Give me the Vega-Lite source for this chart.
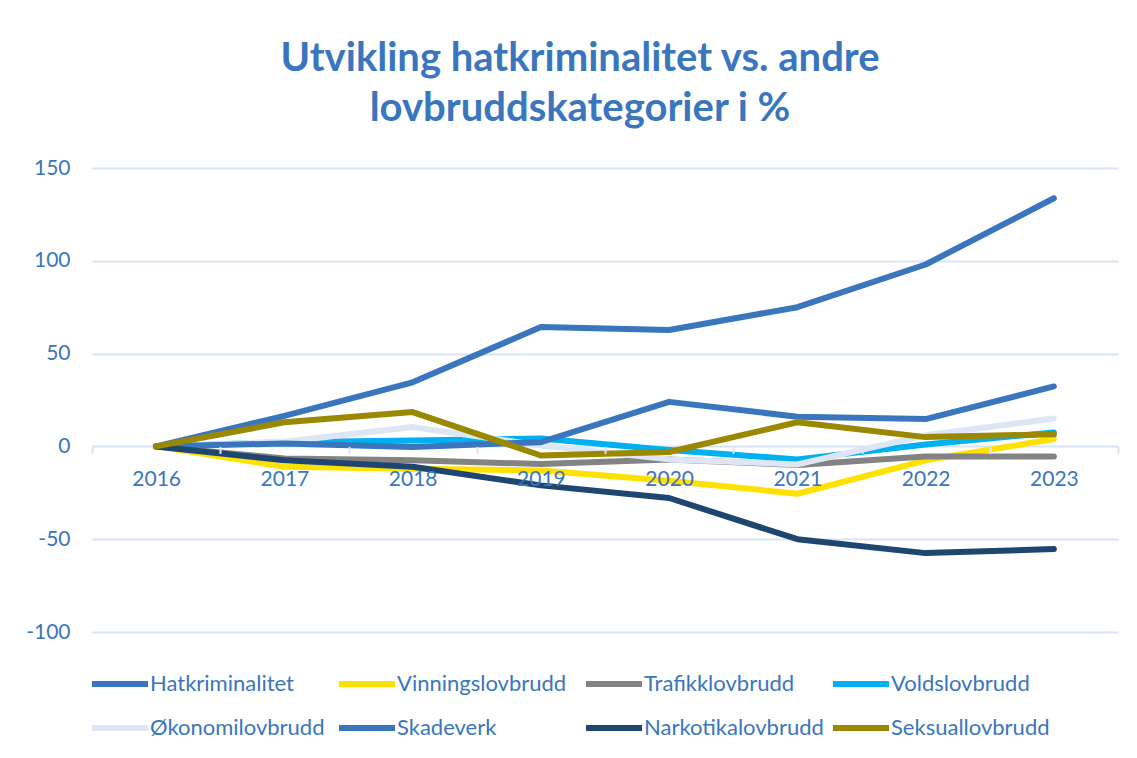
{
  "$schema": "https://vega.github.io/schema/vega-lite/v6.json",
  "width": 1026,
  "height": 464,
  "autosize": {"type": "none"},
  "padding": {"left": 92, "top": 168, "right": 19, "bottom": 126},
  "background": "white",
  "title": {
    "text": ["Utvikling hatkriminalitet vs. andre", "lovbruddskategorier i %"],
    "font": "Lato",
    "fontSize": 40,
    "fontWeight": "bold",
    "color": "#3A76BE",
    "anchor": "middle",
    "dx": -25,
    "offset": 28,
    "lineHeight": 50
  },
  "data": {
    "values": [
      {"year": "2016", "cat": "Hatkriminalitet", "value": 0},
      {"year": "2017", "cat": "Hatkriminalitet", "value": 16.4},
      {"year": "2018", "cat": "Hatkriminalitet", "value": 34.5},
      {"year": "2019", "cat": "Hatkriminalitet", "value": 64.3},
      {"year": "2020", "cat": "Hatkriminalitet", "value": 62.7},
      {"year": "2021", "cat": "Hatkriminalitet", "value": 75},
      {"year": "2022", "cat": "Hatkriminalitet", "value": 98},
      {"year": "2023", "cat": "Hatkriminalitet", "value": 133.7},
      {"year": "2016", "cat": "Vinningslovbrudd", "value": 0},
      {"year": "2017", "cat": "Vinningslovbrudd", "value": -11},
      {"year": "2018", "cat": "Vinningslovbrudd", "value": -12},
      {"year": "2019", "cat": "Vinningslovbrudd", "value": -13},
      {"year": "2020", "cat": "Vinningslovbrudd", "value": -18.5},
      {"year": "2021", "cat": "Vinningslovbrudd", "value": -25.5},
      {"year": "2022", "cat": "Vinningslovbrudd", "value": -7.5},
      {"year": "2023", "cat": "Vinningslovbrudd", "value": 4},
      {"year": "2016", "cat": "Trafikklovbrudd", "value": 0},
      {"year": "2017", "cat": "Trafikklovbrudd", "value": -6.5},
      {"year": "2018", "cat": "Trafikklovbrudd", "value": -7.5},
      {"year": "2019", "cat": "Trafikklovbrudd", "value": -9.5},
      {"year": "2020", "cat": "Trafikklovbrudd", "value": -7},
      {"year": "2021", "cat": "Trafikklovbrudd", "value": -10},
      {"year": "2022", "cat": "Trafikklovbrudd", "value": -5.4},
      {"year": "2023", "cat": "Trafikklovbrudd", "value": -5.4},
      {"year": "2016", "cat": "Voldslovbrudd", "value": 0},
      {"year": "2017", "cat": "Voldslovbrudd", "value": 2.3},
      {"year": "2018", "cat": "Voldslovbrudd", "value": 3.2},
      {"year": "2019", "cat": "Voldslovbrudd", "value": 4.3},
      {"year": "2020", "cat": "Voldslovbrudd", "value": -2},
      {"year": "2021", "cat": "Voldslovbrudd", "value": -7},
      {"year": "2022", "cat": "Voldslovbrudd", "value": 1},
      {"year": "2023", "cat": "Voldslovbrudd", "value": 7.5},
      {"year": "2016", "cat": "Økonomilovbrudd", "value": 0},
      {"year": "2017", "cat": "Økonomilovbrudd", "value": 2.5},
      {"year": "2018", "cat": "Økonomilovbrudd", "value": 10.4},
      {"year": "2019", "cat": "Økonomilovbrudd", "value": 0.5},
      {"year": "2020", "cat": "Økonomilovbrudd", "value": -7},
      {"year": "2021", "cat": "Økonomilovbrudd", "value": -9.7},
      {"year": "2022", "cat": "Økonomilovbrudd", "value": 6},
      {"year": "2023", "cat": "Økonomilovbrudd", "value": 15},
      {"year": "2016", "cat": "Skadeverk", "value": 0},
      {"year": "2017", "cat": "Skadeverk", "value": 1.6},
      {"year": "2018", "cat": "Skadeverk", "value": -0.3},
      {"year": "2019", "cat": "Skadeverk", "value": 2.3},
      {"year": "2020", "cat": "Skadeverk", "value": 24},
      {"year": "2021", "cat": "Skadeverk", "value": 16},
      {"year": "2022", "cat": "Skadeverk", "value": 14.7},
      {"year": "2023", "cat": "Skadeverk", "value": 32.3},
      {"year": "2016", "cat": "Narkotikalovbrudd", "value": 0},
      {"year": "2017", "cat": "Narkotikalovbrudd", "value": -7.5},
      {"year": "2018", "cat": "Narkotikalovbrudd", "value": -11},
      {"year": "2019", "cat": "Narkotikalovbrudd", "value": -21},
      {"year": "2020", "cat": "Narkotikalovbrudd", "value": -27.8},
      {"year": "2021", "cat": "Narkotikalovbrudd", "value": -50},
      {"year": "2022", "cat": "Narkotikalovbrudd", "value": -57.5},
      {"year": "2023", "cat": "Narkotikalovbrudd", "value": -55.3},
      {"year": "2016", "cat": "Seksuallovbrudd", "value": 0},
      {"year": "2017", "cat": "Seksuallovbrudd", "value": 13},
      {"year": "2018", "cat": "Seksuallovbrudd", "value": 18.5},
      {"year": "2019", "cat": "Seksuallovbrudd", "value": -4.9},
      {"year": "2020", "cat": "Seksuallovbrudd", "value": -3},
      {"year": "2021", "cat": "Seksuallovbrudd", "value": 13},
      {"year": "2022", "cat": "Seksuallovbrudd", "value": 5},
      {"year": "2023", "cat": "Seksuallovbrudd", "value": 6.5}
    ]
  },
  "mark": {"type": "line", "strokeWidth": 6, "strokeCap": "round", "strokeJoin": "round"},
  "encoding": {
    "x": {
      "field": "year",
      "type": "nominal",
      "sort": null,
      "scale": {"type": "band", "paddingInner": 0, "paddingOuter": 0},
      "axis": {
        "title": null,
        "orient": "bottom",
        "offset": -185.6,
        "zindex": 1,
        "labelAngle": 0,
        "tickBand": "extent",
        "tickSize": 7,
        "tickColor": "#D9E4F3",
        "tickWidth": 2,
        "domain": false,
        "grid": false,
        "labelPadding": 15,
        "labelFont": "Lato",
        "labelFontSize": 21,
        "labelColor": "#3A76BE"
      }
    },
    "y": {
      "field": "value",
      "type": "quantitative",
      "scale": {"domain": [-100, 150], "nice": false},
      "axis": {
        "title": null,
        "values": [-100, -50, 0, 50, 100, 150],
        "labelExpr": "toString(datum.value)",
        "domain": false,
        "ticks": false,
        "labelPadding": 22,
        "labelFont": "Lato",
        "labelFontSize": 21,
        "labelColor": "#3A76BE",
        "gridColor": "#D9E4F3",
        "gridWidth": 2
      }
    },
    "color": {
      "field": "cat",
      "type": "nominal",
      "scale": {
        "domain": ["Hatkriminalitet", "Vinningslovbrudd", "Trafikklovbrudd", "Voldslovbrudd", "Økonomilovbrudd", "Skadeverk", "Narkotikalovbrudd", "Seksuallovbrudd"],
        "range": ["#3A76BE", "#FFE100", "#838383", "#00B0F0", "#DCE6F4", "#3A76BE", "#1F4670", "#9A8800"]
      },
      "legend": {
        "orient": "none",
        "legendX": 17,
        "legendY": 505,
        "direction": "horizontal",
        "columns": 4,
        "title": null,
        "symbolType": "M-4,0H4",
        "symbolSize": 196,
        "symbolStrokeWidth": 6,
        "labelFont": "Lato",
        "labelFontSize": 22,
        "labelColor": "#3A76BE",
        "labelOffset": 19,
        "labelLimit": 400,
        "columnPadding": -3,
        "rowPadding": 20,
        "gridAlign": "all",
        "padding": 0
      }
    }
  },
  "config": {"view": {"stroke": null}}
}
